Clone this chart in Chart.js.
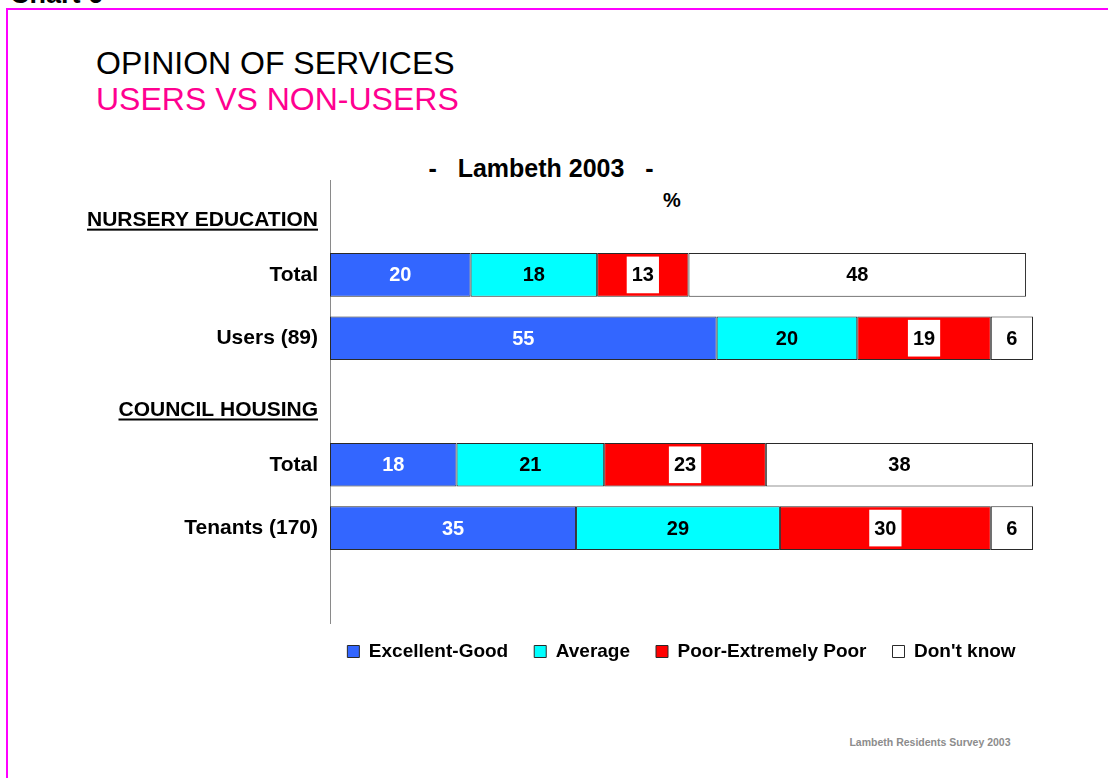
<!DOCTYPE html>
<html>
<head>
<meta charset="utf-8">
<script src="https://cdn.jsdelivr.net/npm/chart.js@4.4.1/dist/chart.umd.min.js"></script>
<style>
	html, body { margin: 0; padding: 0; background: #fff; }
	body { width: 1108px; height: 778px; position: relative; overflow: hidden; font-family: "Liberation Sans", Arial, sans-serif; }
	.frame { position: absolute; left: 6px; top: 8px; right: -10px; bottom: -10px; border-top: 2px solid #ff00ff; border-left: 2px solid #ff00ff; }
	.txt { position: absolute; white-space: pre; line-height: 1; }
	#chart-num { left: 10px; top: -19px; font-size: 27px; font-weight: bold; color: #000; }
	#head1 { left: 96px; top: 47px; font-size: 32px; color: #000; }
	#head2 { left: 96px; top: 83px; font-size: 32px; color: #ff0090; }
	#sub { left: 541px; top: 156px; font-size: 25px; font-weight: bold; transform: translateX(-50%); }
	#pct { left: 672px; top: 190px; font-size: 20px; font-weight: bold; transform: translateX(-50%); }
	#source { left: 930px; top: 737px; font-size: 10.5px; font-weight: bold; color: #8c8c8c; transform: translateX(-50%); }
	#chart-wrap { position: absolute; left: 60px; top: 150px; width: 1048px; height: 528px; }
</style>
</head>
<body>
<div class="frame"></div>
<div class="txt" id="chart-num">Chart 6</div>
<div class="txt" id="head1">OPINION OF SERVICES</div>
<div class="txt" id="head2">USERS VS NON-USERS</div>
<div class="txt" id="sub">-   Lambeth 2003   -</div>
<div class="txt" id="pct">%</div>
<div class="txt" id="source">Lambeth Residents Survey 2003</div>
<div id="chart-wrap"><canvas id="opinion"></canvas></div>

<script>
// rows of the chart; header rows carry no bars
const rowLabels = ["NURSERY EDUCATION", "Total", "Users (89)", "COUNCIL HOUSING", "Total", "Tenants (170)", ""];
const headerRows = [0, 3];

const excellentGood = [null, 20, 55, null, 18, 35, null];
const average = [null, 18, 20, null, 21, 29, null];
const poorExtremelyPoor = [null, 13, 19, null, 23, 30, null];
const dontKnow = [null, 48, 6, null, 38, 6, null];

const FONT = '"Liberation Sans", Arial, sans-serif';

// value in the middle of each segment; red segments get a white box behind the number
const segmentLabels = {
	id: "segmentLabels",
	afterDatasetsDraw(chart) {
		const ctx = chart.ctx;
		ctx.save();
		ctx.font = "bold 20px " + FONT;
		ctx.textAlign = "center";
		ctx.textBaseline = "middle";
		chart.data.datasets.forEach((ds, di) => {
			chart.getDatasetMeta(di).data.forEach((bar, i) => {
				const v = ds.data[i];
				if (v == null) return;
				const cx = (bar.x + bar.base) / 2;
				const text = String(v);
				if (ds.labelBox) {
					const w = ctx.measureText(text).width + 10;
					const h = bar.height - 7;
					ctx.fillStyle = "#fff";
					ctx.fillRect(cx - w / 2, bar.y - h / 2, w, h);
				}
				ctx.fillStyle = ds.labelColor;
				ctx.fillText(text, cx, bar.y + 1);
			});
		});
		ctx.restore();
	},
};

// underlined group headers on the left of the axis
const groupHeaders = {
	id: "groupHeaders",
	afterDraw(chart) {
		const ctx = chart.ctx;
		const yScale = chart.scales.y;
		const right = chart.chartArea.left - 12;
		ctx.save();
		ctx.font = "bold 21px " + FONT;
		ctx.textAlign = "right";
		ctx.textBaseline = "alphabetic";
		ctx.fillStyle = "#000";
		headerRows.forEach((row) => {
			const y = yScale.getPixelForTick(row) + 14;
			const w = ctx.measureText(rowLabels[row]).width;
			ctx.fillText(rowLabels[row], right, y);
			ctx.fillRect(right - w, y + 3, w, 2);
		});
		ctx.restore();
	},
};

// keep the legend centred under the bars rather than the whole canvas
const legendUnderBars = {
	id: "legendUnderBars",
	afterLayout(chart) {
		const lg = chart.legend;
		const area = chart.chartArea;
		const cx = (area.left + area.right) / 2;
		const half = Math.min(cx, chart.width - cx) - 2;
		lg.left = cx - half;
		lg.right = cx + half;
		lg.width = half * 2;
		lg.top -= 7;
		lg.bottom -= 7;
	},
};

const border = "#2a2a2a";

new Chart(document.getElementById("opinion"), {
	type: "bar",
	data: {
		labels: rowLabels,
		datasets: [
			{ label: "Excellent-Good", data: excellentGood, backgroundColor: "#3366ff", labelColor: "#fff" },
			{ label: "Average", data: average, backgroundColor: "#00ffff", labelColor: "#000" },
			{ label: "Poor-Extremely Poor", data: poorExtremelyPoor, backgroundColor: "#ff0000", labelColor: "#000", labelBox: true },
			{ label: "Don't know", data: dontKnow, backgroundColor: "#ffffff", labelColor: "#000" },
		].map((ds) => ({
			...ds,
			borderColor: border,
			borderWidth: 1,
			borderSkipped: false,
			barPercentage: 0.69,
			categoryPercentage: 1,
		})),
	},
	options: {
		indexAxis: "y",
		responsive: true,
		maintainAspectRatio: false,
		animation: false,
		layout: { padding: { top: 30, right: 75, left: 0, bottom: 0 } },
		scales: {
			x: { stacked: true, min: 0, max: 100, display: false },
			y: {
				stacked: true,
				grid: { display: false, drawTicks: false },
				border: { display: true, color: "#8a8a8a", width: 1 },
				ticks: {
					padding: 12,
					color: "#000",
					font: { family: FONT, size: 21, weight: "bold" },
					callback: (val, i) => (headerRows.includes(i) ? "" : rowLabels[i]),
				},
				afterFit(scale) {
					scale.width = 270;
				},
			},
		},
		plugins: {
			legend: {
				position: "bottom",
				labels: {
					boxWidth: 12,
					boxHeight: 12,
					padding: 26,
					color: "#000",
					font: { family: FONT, size: 19, weight: "bold" },
				},
			},
			tooltip: { enabled: false },
		},
	},
	plugins: [segmentLabels, groupHeaders, legendUnderBars],
});
</script>
</body>
</html>
